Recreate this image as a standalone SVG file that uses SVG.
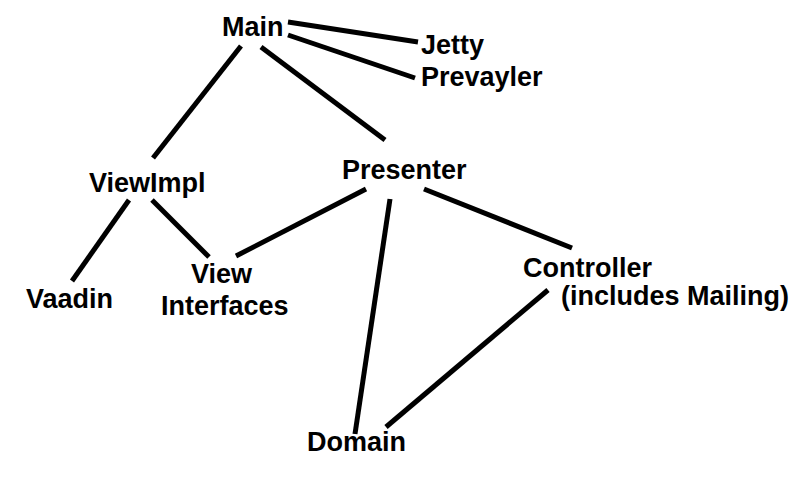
<svg xmlns="http://www.w3.org/2000/svg" width="810" height="504" viewBox="0 0 810 504">
<style>
text{font-family:"Liberation Sans",Arial,sans-serif;font-weight:bold;font-size:27px;fill:#000}
.c line{stroke:#000;stroke-width:5;stroke-linecap:butt}
</style>
<rect width="810" height="504" fill="#fff"/>
<g class="c" id="connectors">
<line x1="288" y1="22" x2="418" y2="42"/>
<line x1="288" y1="35" x2="415" y2="78"/>
<line x1="241" y1="46" x2="153" y2="158"/>
<line x1="261" y1="47" x2="385" y2="140"/>
<line x1="129" y1="200" x2="72" y2="281"/>
<line x1="152" y1="200" x2="209" y2="257"/>
<line x1="236" y1="256" x2="366" y2="189"/>
<line x1="390" y1="199" x2="355" y2="434"/>
<line x1="424" y1="189" x2="572" y2="248"/>
<line x1="548" y1="290" x2="386" y2="427"/>
</g>
<g id="main"><text x="222" y="36">Main</text></g>
<g id="jetty"><text x="421" y="54">Jetty</text></g>
<g id="prevayler"><text x="421" y="86">Prevayler</text></g>
<g id="viewimpl"><text x="89" y="192">ViewImpl</text></g>
<g id="presenter"><text x="342" y="179">Presenter</text></g>
<g id="vaadin"><text x="26" y="308">Vaadin</text></g>
<g id="viewinterfaces"><text x="191" y="283">View</text><text x="161" y="315">Interfaces</text></g>
<g id="controller"><text x="523" y="277">Controller</text><text x="561" y="305">(includes Mailing)</text></g>
<g id="domain"><text x="307" y="451">Domain</text></g>
</svg>
